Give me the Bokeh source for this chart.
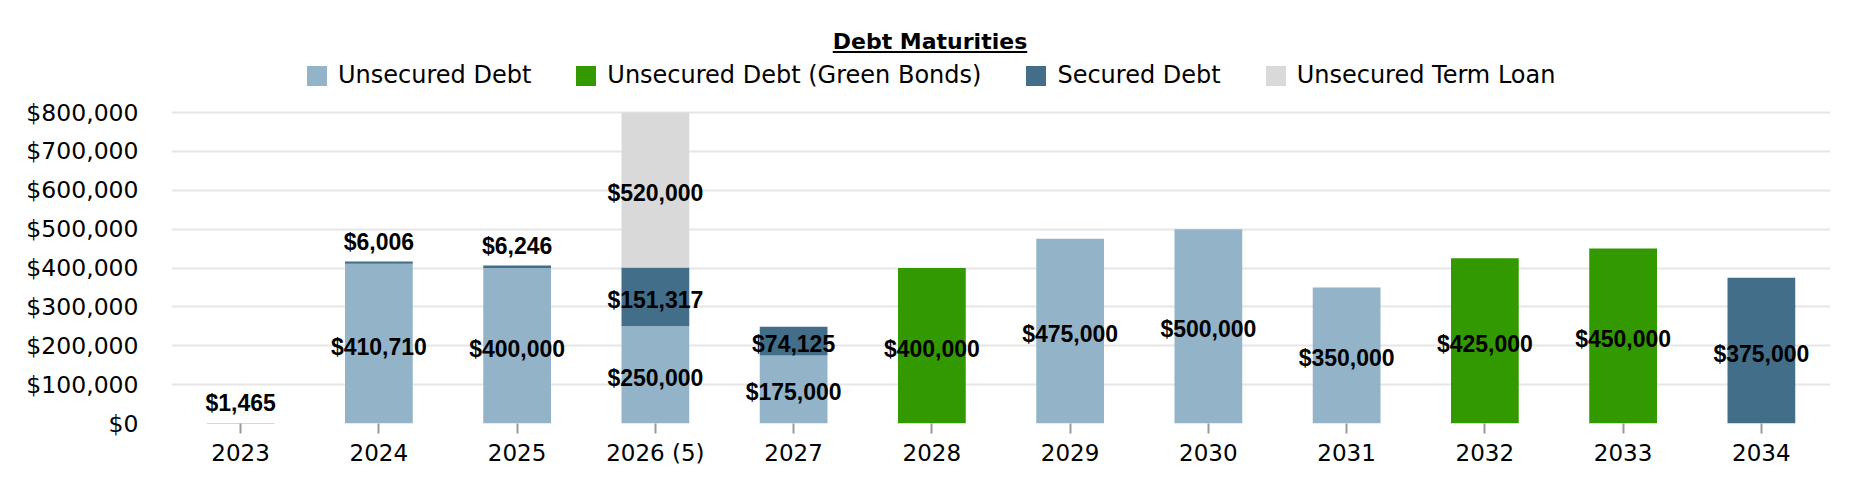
from bokeh.plotting import figure
from bokeh.models import (FactorRange, Range1d, NumeralTickFormatter, Legend, LegendItem,
                          ColumnDataSource, Div, FixedTicker)
from bokeh.layouts import column
from bokeh.core.properties import value
from bokeh.embed import file_html
from bokeh.resources import INLINE

# ---------------- data ----------------
years = ["2023", "2024", "2025", "2026 (5)", "2027", "2028", "2029", "2030",
         "2031", "2032", "2033", "2034"]
unsecured = [0, 410710, 400000, 250000, 175000, 0, 475000, 500000, 350000, 0, 0, 0]
green_bonds = [0, 0, 0, 0, 0, 400000, 0, 0, 0, 425000, 450000, 0]
secured = [1465, 6006, 6246, 151317, 74125, 0, 0, 0, 0, 0, 0, 375000]
term_loan = [0, 0, 0, 520000, 0, 0, 0, 0, 0, 0, 0, 0]
series_names = ["Unsecured Debt", "Unsecured Debt (Green Bonds)", "Secured Debt",
                "Unsecured Term Loan"]
y_ticks = [0, 100000, 200000, 300000, 400000, 500000, 600000, 700000, 800000]
title_text = "Debt Maturities"

# ---------------- styles / layout ----------------
colors = ["#93b4c8", "#339900", "#426e8a", "#d9d9d9"]
y_max = 800000          # axis maximum (bars are cut there)
small_limit = 20000     # segments thinner than this get their label above the bar
div_h = 54
frame_bottom_px = 423   # page y of value 0
axis_px = 311           # pixels spanned by 0..y_max
fig_h = 500 - div_h
y_top = y_max * (frame_bottom_px - div_h) / axis_px   # extra room above the axis for the legend

p = figure(x_range=FactorRange(factors=years), y_range=Range1d(0, y_top),
           width=1860, height=fig_h, output_backend="svg", toolbar_location=None,
           min_border_left=171, min_border_right=30, min_border_top=0,
           min_border_bottom=fig_h - (frame_bottom_px - div_h))

# ---------------- stacked bars (cut at the axis maximum) ----------------
renderers = []
lab_x, lab_y, lab_t, lab_off = [], [], [], []
bottoms = [0] * len(years)
for vals, col in zip([unsecured, green_bonds, secured, term_loan], colors):
    xs, bs, ts = [], [], []
    for i, v in enumerate(vals):
        lo = bottoms[i]
        hi = lo + v
        xs.append(years[i])
        bs.append(min(lo, y_max))
        ts.append(min(hi, y_max))
        if v > 0:
            lab_x.append(years[i])
            lab_t.append("${:,}".format(v))
            if v < small_limit:
                lab_y.append(hi)
                lab_off.append(-20)
            else:
                lab_y.append((lo + min(hi, y_max)) / 2)
                lab_off.append(3)
        bottoms[i] = hi
    r = p.vbar(x=xs, bottom=bs, top=ts, width=0.49, fill_color=col, line_color=None)
    renderers.append(r)

lsrc = ColumnDataSource(dict(x=lab_x, y=lab_y, t=lab_t, off=lab_off))
p.text(x="x", y="y", text="t", y_offset="off", source=lsrc,
       text_font=value("Liberation Sans"), text_font_style="bold",
       text_font_size="23px", text_align="center", text_baseline="alphabetic",
       text_color="#000000")

# ---------------- legend ----------------
legend = Legend(items=[LegendItem(label=n, renderers=[r]) for n, r in zip(series_names, renderers)],
                orientation="horizontal", location=(133, 334),
                label_text_font="DejaVu Sans", label_text_font_size="24px",
                label_text_color="#000000", glyph_width=25, glyph_height=25,
                label_standoff=9, spacing=42, padding=0, margin=0,
                border_line_color=None, background_fill_alpha=0)
p.add_layout(legend, "center")

# ---------------- axes / grid ----------------
p.yaxis.ticker = FixedTicker(ticks=y_ticks)
p.yaxis.formatter = NumeralTickFormatter(format="$0,0")
p.yaxis.axis_line_color = None
p.yaxis.major_tick_line_color = None
p.yaxis.minor_tick_line_color = None
p.yaxis.major_label_standoff = 27
p.yaxis.major_label_text_font = "DejaVu Sans"
p.yaxis.major_label_text_font_size = "23.5px"
p.yaxis.major_label_text_color = "#000000"

p.xaxis.axis_line_color = None
p.xaxis.major_tick_in = 0
p.xaxis.major_tick_out = 10
p.xaxis.major_tick_line_color = "#999999"
p.xaxis.major_tick_line_width = 2
p.xaxis.major_label_standoff = 6
p.xaxis.major_label_text_font = "DejaVu Sans"
p.xaxis.major_label_text_font_size = "23px"
p.xaxis.major_label_text_color = "#000000"

p.xgrid.grid_line_color = None
p.ygrid.grid_line_color = "#e6e6e6"
p.ygrid.grid_line_width = 2
p.outline_line_color = None

title_div = Div(text=('<div style="padding-top:29px;text-align:center;font-family:\'DejaVu Sans\';'
                      'font-size:22px;font-weight:bold;text-decoration:underline;color:#000;'
                      'line-height:normal;width:1860px;">' + title_text + '</div>'),
                width=1860, height=div_h, margin=0)
p.margin = 0

layout = column(title_div, p, spacing=0, margin=0)
open("out.html", "w").write(file_html(layout, INLINE))
